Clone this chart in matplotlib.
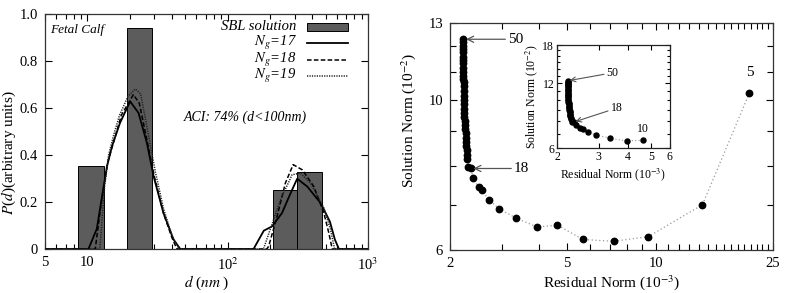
import matplotlib
matplotlib.use("Agg")
import matplotlib.pyplot as plt
from matplotlib.ticker import FixedLocator, NullFormatter, FixedFormatter
from matplotlib.patches import Rectangle
from matplotlib.lines import Line2D

plt.rcParams['font.family'] = ['Liberation Serif', 'DejaVu Serif']
plt.rcParams['mathtext.fontset'] = 'stix'

# ---------------- Left panel data ----------------
bar_left = [8.65, 19.3, 209.5, 312.6]
bar_right = [13.1, 29.1, 312.6, 467.0]
bar_height = [0.352, 0.939, 0.249, 0.329]

d17 = [5, 10.2, 11.7, 13.8, 15.0, 17.1, 20.2, 23.2, 26.6, 29.7, 34.9, 41.2, 46, 153, 181, 207, 244, 281, 313, 369, 459, 535, 581, 621, 1000]
p17 = [0, 0, 0.086, 0.35, 0.437, 0.536, 0.628, 0.579, 0.451, 0.309, 0.153, 0.04, 0, 0, 0.078, 0.096, 0.153, 0.238, 0.299, 0.266, 0.196, 0.117, 0.04, 0, 0]

d18 = [5, 11.4, 12.6, 14.0, 15.5, 17.5, 21.3, 23.5, 26.5, 30.0, 35.0, 40.0, 43.5, 190, 196, 225, 258, 293, 340, 411, 485, 526, 556, 1000]
p18 = [0, 0, 0.20, 0.37, 0.46, 0.57, 0.657, 0.62, 0.47, 0.31, 0.15, 0.05, 0, 0, 0.011, 0.139, 0.281, 0.359, 0.337, 0.266, 0.153, 0.068, 0, 0]

d19 = [5, 12.3, 13.2, 14.2, 15.5, 17.0, 19.5, 22.0, 24.0, 27.0, 30.5, 35.0, 40.0, 45.0, 180, 238, 288, 330, 389, 485, 541, 578, 1000]
p19 = [0, 0, 0.25, 0.40, 0.49, 0.57, 0.65, 0.681, 0.66, 0.50, 0.33, 0.17, 0.06, 0, 0, 0.21, 0.316, 0.323, 0.281, 0.174, 0.082, 0, 0]

legend_labels = ['SBL solution', '$N_g$=17', '$N_g$=18', '$N_g$=19']

# ---------------- Right panel data ----------------
resid = [20.8, 14.4, 9.43, 7.19, 5.65, 4.63, 3.95, 3.35, 2.94, 2.71, 2.57, 2.50, 2.40, 2.35,
         2.31, 2.29, 2.29, 2.28, 2.27, 2.27, 2.26, 2.26, 2.25, 2.25, 2.25, 2.24, 2.24, 2.24,
         2.23, 2.23, 2.23, 2.23, 2.23, 2.23, 2.22, 2.22, 2.22, 2.22, 2.22, 2.22, 2.22, 2.22,
         2.22, 2.22, 2.22, 2.22]
soln = [10.25, 7.00, 6.28, 6.18, 6.22, 6.53, 6.49, 6.69, 6.90, 7.12, 7.36, 7.43, 7.66, 7.92,
        7.97, 8.19, 8.30, 8.44, 8.56, 8.67, 8.80, 8.93, 9.06, 9.18, 9.30, 9.43, 9.56, 9.70,
        9.86, 10.00, 10.14, 10.31, 10.48, 10.62, 10.74, 10.86, 11.01, 11.17, 11.33, 11.46,
        11.59, 11.76, 11.90, 12.04, 12.18, 12.30]
n_first = 5  # Ng of first point

BAR_COLOR = '#5c5c5c'

fig = plt.figure(figsize=(8, 2.93), dpi=100)

# ================= Left panel =================
ax = fig.add_axes([45/800, 1-249/293, 323/800, 235/293])
ax.set_xscale('log')
ax.set_xlim(5, 1000)
ax.set_ylim(0, 1.0)
for l, r, h in zip(bar_left, bar_right, bar_height):
    ax.bar(l, h, width=r-l, align='edge', color=BAR_COLOR, edgecolor='black', linewidth=0.7, zorder=2)
styles = [dict(color='black', lw=1.3),
          dict(color='black', lw=1.1, dashes=(3, 1.5)),
          dict(color='#222222', lw=1.1, dashes=(0.8, 0.8))]
ax.plot(d17, p17, zorder=3, **styles[0])
ax.plot(d18, p18, zorder=3, **styles[1])
ax.plot(d19, p19, zorder=3, **styles[2])

ax.set_yticks([0, 0.2, 0.4, 0.6, 0.8, 1.0])
ax.set_yticklabels(['0', '0.2', '0.4', '0.6', '0.8', '1.0'])
ax.set_xticks([5, 10, 100, 1000])
ax.set_xticklabels(['5', '10', '10$^{2}$', '10$^{3}$'])
ax.xaxis.set_minor_locator(FixedLocator([6, 7, 8, 9, 20, 30, 40, 50, 60, 70, 80, 90,
                                         200, 300, 400, 500, 600, 700, 800, 900]))
ax.xaxis.set_minor_formatter(NullFormatter())
ax.tick_params(which='both', direction='in', top=True, right=True, labelsize=10.5, pad=5)
ax.tick_params(which='major', length=5, width=0.8)
ax.tick_params(which='minor', length=3.5, width=0.8)
ax.set_xlabel('$d$ ($nm$ )', fontsize=11, labelpad=1)
ax.set_ylabel('$P$($d$)(arbitrary units)', fontsize=11)
ax.yaxis.set_label_coords(-0.085, 0.41)
for s in ax.spines.values():
    s.set_linewidth(0.9)
    s.set_color('#333333')

ax.text(0.017, 0.93, 'Fetal Calf', transform=ax.transAxes, fontsize=9.5, style='italic',
        ha='left', va='center')
ax.text(0.43, 0.56, 'ACI: 74% (d<100nm)', transform=ax.transAxes, fontsize=10, style='italic',
        ha='left', va='center')

# manual legend
row_y = [0.946, 0.876, 0.806, 0.736]
tx, hx0, hx1 = 0.779, 0.810, 0.939
for i, (lab, yy) in enumerate(zip(legend_labels, row_y)):
    ax.text(tx, yy, lab, transform=ax.transAxes, ha='right', va='center',
            fontsize=10.5, style='italic')
    if i == 0:
        ax.add_patch(Rectangle((hx0, yy - 0.017), hx1 - hx0, 0.034, transform=ax.transAxes,
                               facecolor=BAR_COLOR, edgecolor='black', linewidth=0.7,
                               clip_on=False, zorder=4))
    else:
        ax.add_line(Line2D([hx0, hx1], [yy, yy], transform=ax.transAxes, clip_on=False,
                           zorder=4, **styles[i - 1]))

# ================= Right panel =================
ax2 = fig.add_axes([450/800, 1-250/293, 323/800, 227/293])
ax2.set_xscale('log')
ax2.set_yscale('log')
ax2.set_xlim(2, 25)
ax2.set_ylim(6, 13)
ax2.plot(resid, soln, color='#999999', lw=0.9, ls=(0, (1, 2)), zorder=2)
ax2.plot(resid, soln, 'o', color='black', ms=4.6, zorder=3, linestyle='none')
ax2.xaxis.set_major_locator(FixedLocator([2, 5, 10, 25]))
ax2.xaxis.set_major_formatter(FixedFormatter(['2', '5', '10', '25']))
ax2.xaxis.set_minor_locator(FixedLocator([v for v in range(3, 25) if v not in (5, 10)]))
ax2.xaxis.set_minor_formatter(NullFormatter())
ax2.yaxis.set_major_locator(FixedLocator([6, 10, 13]))
ax2.yaxis.set_major_formatter(FixedFormatter(['6', '10', '13']))
ax2.yaxis.set_minor_locator(FixedLocator([7, 8, 9, 11, 12]))
ax2.yaxis.set_minor_formatter(NullFormatter())
ax2.tick_params(which='both', direction='in', top=True, right=True, labelsize=10.5, pad=5)
ax2.tick_params(which='major', length=5, width=0.8)
ax2.tick_params(which='minor', length=4, width=0.8)
ax2.set_xlabel('Residual Norm (10$^{-3}$)', fontsize=11, labelpad=2)
ax2.set_ylabel('Solution Norm (10$^{-2}$)', fontsize=11)
ax2.yaxis.set_label_coords(-0.1, 0.57)
for s in ax2.spines.values():
    s.set_linewidth(0.9)
    s.set_color('#333333')

i50 = 50 - n_first
i18 = 18 - n_first
arrow_kw = dict(arrowstyle='->', color='#555555', lw=0.9, shrinkA=0, shrinkB=2)
ax2.annotate('50', xy=(resid[i50], soln[i50]), xytext=(3.15, soln[i50]), fontsize=11,
             va='center', ha='left', arrowprops=arrow_kw)
ax2.annotate('18', xy=(resid[i18], soln[i18]), xytext=(3.3, soln[i18]), fontsize=11,
             va='center', ha='left', arrowprops=arrow_kw)
ax2.text(resid[0], 11.0, '5', fontsize=11, ha='center', va='center')

# ================= Inset =================
ax3 = fig.add_axes([557/800, 1-148.3/293, 112.5/800, 103.3/293])
ax3.set_xscale('log')
ax3.set_yscale('log')
ax3.set_xlim(2, 6)
ax3.set_ylim(6, 18)
i10 = 10 - n_first
ax3.plot(resid[i10:], soln[i10:], color='#999999', lw=0.8, ls=(0, (1, 2)), zorder=2)
ax3.plot(resid[i10:], soln[i10:], 'o', color='black', ms=3.6, zorder=3, linestyle='none')
ax3.xaxis.set_major_locator(FixedLocator([2, 3, 4, 5, 6]))
ax3.xaxis.set_major_formatter(FixedFormatter(['2', '3', '4', '5', '6']))
ax3.xaxis.set_minor_locator(FixedLocator([]))
ax3.yaxis.set_major_locator(FixedLocator([6, 12, 18]))
ax3.yaxis.set_major_formatter(FixedFormatter(['6', '12', '18']))
ax3.yaxis.set_minor_locator(FixedLocator([7, 8, 9, 10, 11, 13, 14, 15, 16, 17]))
ax3.yaxis.set_minor_formatter(NullFormatter())
ax3.tick_params(which='both', direction='in', top=True, right=True, labelsize=8.5, pad=2)
ax3.tick_params(which='major', length=3.5, width=0.8)
ax3.tick_params(which='minor', length=2.5, width=0.8)
ax3.set_xlabel('Residual Norm (10$^{-3}$)', fontsize=8.5, labelpad=2)
ax3.set_ylabel('Solution Norm (10$^{-2}$)', fontsize=8.5, labelpad=2)
for s in ax3.spines.values():
    s.set_linewidth(0.9)
    s.set_color('#222222')
arrow_kw2 = dict(arrowstyle='->', color='#555555', lw=0.8, shrinkA=0, shrinkB=1.5)
ax3.annotate('50', xy=(resid[i50], soln[i50]), xytext=(3.25, 13.4), fontsize=8.5,
             va='center', ha='left', arrowprops=arrow_kw2)
ax3.annotate('18', xy=(resid[i18], soln[i18]), xytext=(3.38, 9.2), fontsize=8.5,
             va='center', ha='left', arrowprops=arrow_kw2)
ax3.text(resid[i10], 7.35, '10', fontsize=8.5, ha='center', va='center')

fig.savefig('out.png', dpi=100)
